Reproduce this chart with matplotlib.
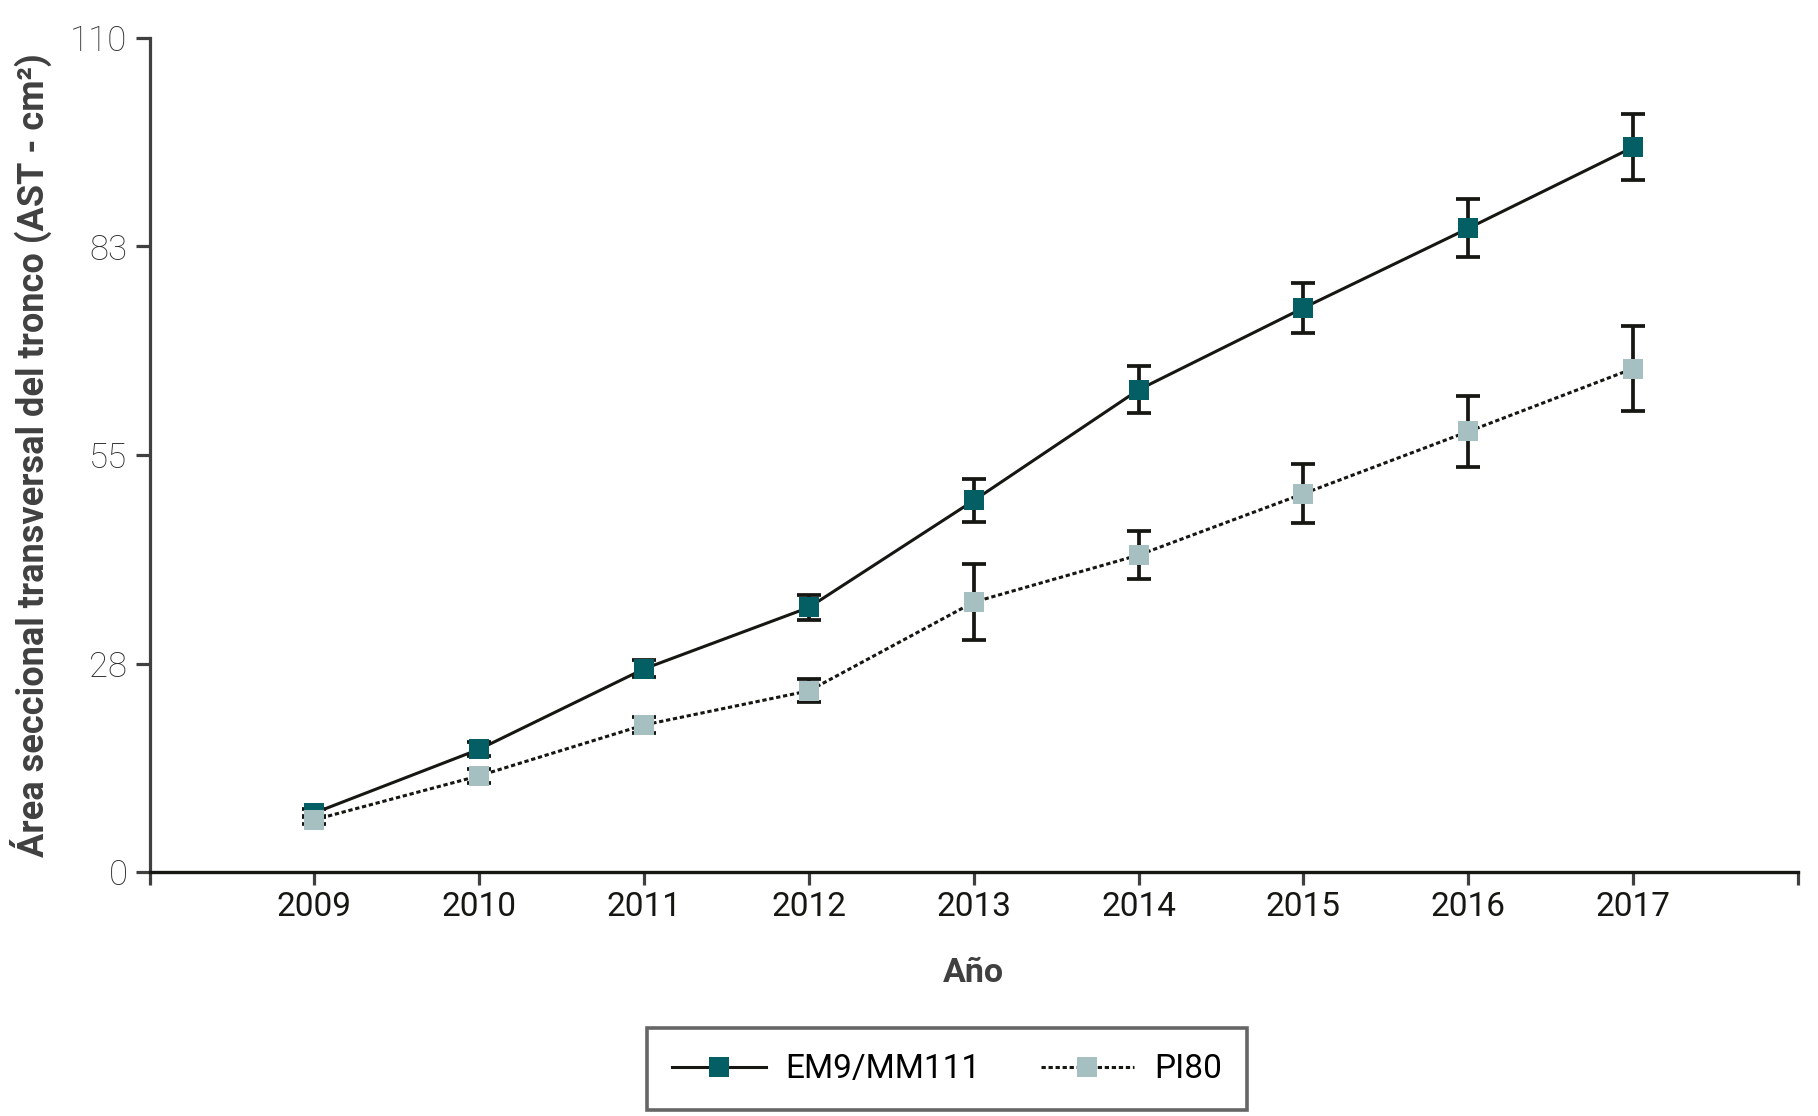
import numpy as np
import matplotlib.pyplot as plt
from matplotlib.lines import Line2D

# data
years = ["2009", "2010", "2011", "2012", "2013", "2014", "2015", "2016", "2017"]
em9 = [7.8, 16.2, 26.8, 34.9, 49.0, 63.6, 74.4, 84.9, 95.6]
em9_err = [0.5, 0.9, 1.1, 1.7, 2.8, 3.1, 3.3, 3.8, 4.4]
pi80 = [6.9, 12.7, 19.4, 23.9, 35.6, 41.8, 49.9, 58.1, 66.4]
pi80_err = [0.5, 0.9, 1.1, 1.5, 5.0, 3.2, 3.9, 4.7, 5.6]

y_ticks = [0, 27.5, 55, 82.5, 110]
y_tick_labels = ["0", "28", "55", "83", "110"]

teal = "#035f63"
grey_teal = "#a6bfc0"
dark = "#161612"
axis_grey = "#404040"

plt.rcParams["font.family"] = ["Roboto", "DejaVu Sans"]

fig = plt.figure(figsize=(18.18, 11.16), dpi=100)
ax = fig.add_axes([0.0823, 0.2186, 0.9067, 0.7474])

x = np.arange(len(years))
msize = 15

# error bars first, then lines, markers on top
ax.errorbar(x, em9, yerr=em9_err, fmt="none", ecolor=dark, elinewidth=2.7,
            capsize=8.5, capthick=2.7, zorder=2)
ax.errorbar(x, pi80, yerr=pi80_err, fmt="none", ecolor=dark, elinewidth=2.7,
            capsize=8.5, capthick=2.7, zorder=2)
ax.plot(x, em9, color=dark, lw=2.2, zorder=3)
ax.plot(x, pi80, color=dark, lw=2.2, linestyle=(0, (1.4, 0.9)), zorder=3)
ax.plot(x, em9, linestyle="none", marker="s", markersize=msize, color=teal,
        markeredgewidth=0, zorder=4)
ax.plot(x, pi80, linestyle="none", marker="s", markersize=msize, color=grey_teal,
        markeredgewidth=0, zorder=4)

ax.set_xlim(-1, len(years))
ax.set_ylim(0, 110)

ax.set_xticks(np.arange(-1, len(years) + 1))
ax.set_xticklabels([""] + years + [""])
ax.set_yticks(y_ticks)
ax.set_yticklabels(y_tick_labels)

for s in ["top", "right"]:
    ax.spines[s].set_visible(False)
ax.spines["left"].set_color(axis_grey)
ax.spines["left"].set_linewidth(2.3)
ax.spines["bottom"].set_color(dark)
ax.spines["bottom"].set_linewidth(2.4)

ax.tick_params(axis="y", direction="out", length=10, width=2.3, color=axis_grey,
               labelsize=25, labelcolor="#2e2e2e", pad=6)
ax.tick_params(axis="x", direction="out", length=9, width=2.3, color=axis_grey,
               labelsize=24, labelcolor=dark, pad=5)
for lab in ax.get_yticklabels():
    lab.set_fontweight("light")

ax.set_ylabel("Área seccional transversal del tronco (AST - cm²)", fontsize=26,
              fontweight="bold", color=axis_grey, labelpad=13)
ax.set_xlabel("Año", fontsize=24.5, fontweight="bold", color=axis_grey, labelpad=24)

handles = [
    Line2D([], [], color=dark, lw=2.2, marker="s", markersize=msize,
           markerfacecolor=teal, markeredgewidth=0),
    Line2D([], [], color=dark, lw=2.2, linestyle=(0, (1.4, 0.9)), marker="s",
           markersize=msize, markerfacecolor=grey_teal, markeredgewidth=0),
]
leg = fig.legend(handles, ["EM9/MM111", "PI80"], loc="center",
                 bbox_to_anchor=(0.521, 0.0417), ncol=2, fontsize=24,
                 frameon=True, fancybox=False, handlelength=2.8,
                 handletextpad=0.6, columnspacing=1.8, borderpad=0.75)
leg.get_frame().set_edgecolor(axis_grey)
leg.get_frame().set_linewidth(2.6)
for t in leg.get_texts():
    t.set_color("black")

fig.savefig("out.png", dpi=100)
